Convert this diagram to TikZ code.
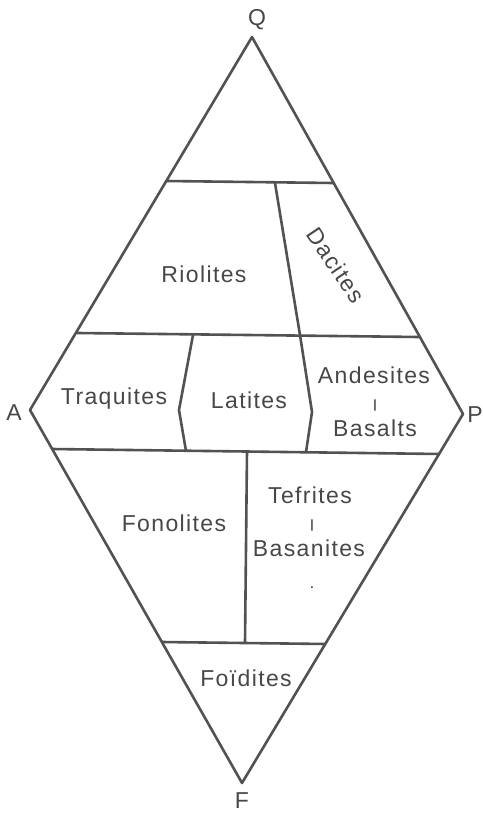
\documentclass[tikz,border=0pt]{standalone}
\usepackage{fontspec}
\setmainfont{Liberation Sans}
\newfontfamily\rockfont[LetterSpace=6]{Liberation Sans}
\begin{document}
\begin{tikzpicture}[x=1pt, y=-1pt, line width=2.6pt, line join=round, every node/.style={align=center, text=black!72}]
\tikzset{
  rocktext/.style={font=\rockfont\fontsize{23}{27}\selectfont, inner sep=0pt, text height=16.4pt, text depth=0pt},
  bartext/.style={font=\bfseries\fontsize{12}{14}\selectfont, inner sep=0pt},
  border/.style={draw=black!68}
}
\useasboundingbox (0,0) rectangle (482,813);
\coordinate (Q) at (252,37);
\coordinate (A) at (30,410);
\coordinate (P) at (463,414);
\coordinate (F) at (242,783);
\draw[border] (Q) -- (A) -- (F) -- (P) -- cycle;
\draw[border] (166,181) -- (333,183);
\draw[border] (275,183) -- (300,335);
\draw[border] (77,333) -- (419,337);
\draw[border] (193,335) -- (179,410) -- (186,451);
\draw[border] (300,335) -- (312,412) -- (306,452);
\draw[border] (52,449) -- (440,454);
\draw[border] (247,451) -- (245,643);
\draw[border] (162,642) -- (326,644);
\node[rocktext] (labQ) at (257,17) {Q};
\node[rocktext] (labA) at (14,412) {A};
\node[rocktext] (labP) at (475,414) {P};
\node[rocktext] (labF) at (242,800) {F};
\node[rocktext] (riolites) at (204,274) {Riolites};
\node[rocktext, rotate=-56] (dacites) at (336,265) {Dacites};
\node[rocktext] (traquites) at (114,396) {Traquites};
\node[rocktext] (latites) at (249,400) {Latites};
\node[rocktext] (andesites) at (374,375) {Andesites};
\node[bartext] (andbar) at (375,405) {|};
\node[rocktext] (basalts) at (375,428) {Basalts};
\node[rocktext] (fonolites) at (174,523) {Fonolites};
\node[rocktext] (tefrites) at (310,495) {Tefrites};
\node[bartext] (tefbar) at (312,525) {|};
\node[rocktext] (basanites) at (309,548) {Basanites};
\node[bartext] (tefdot) at (312,588) {.};
\node[rocktext] (foidites) at (246,678) {Foïdites};
\end{tikzpicture}
\end{document}
